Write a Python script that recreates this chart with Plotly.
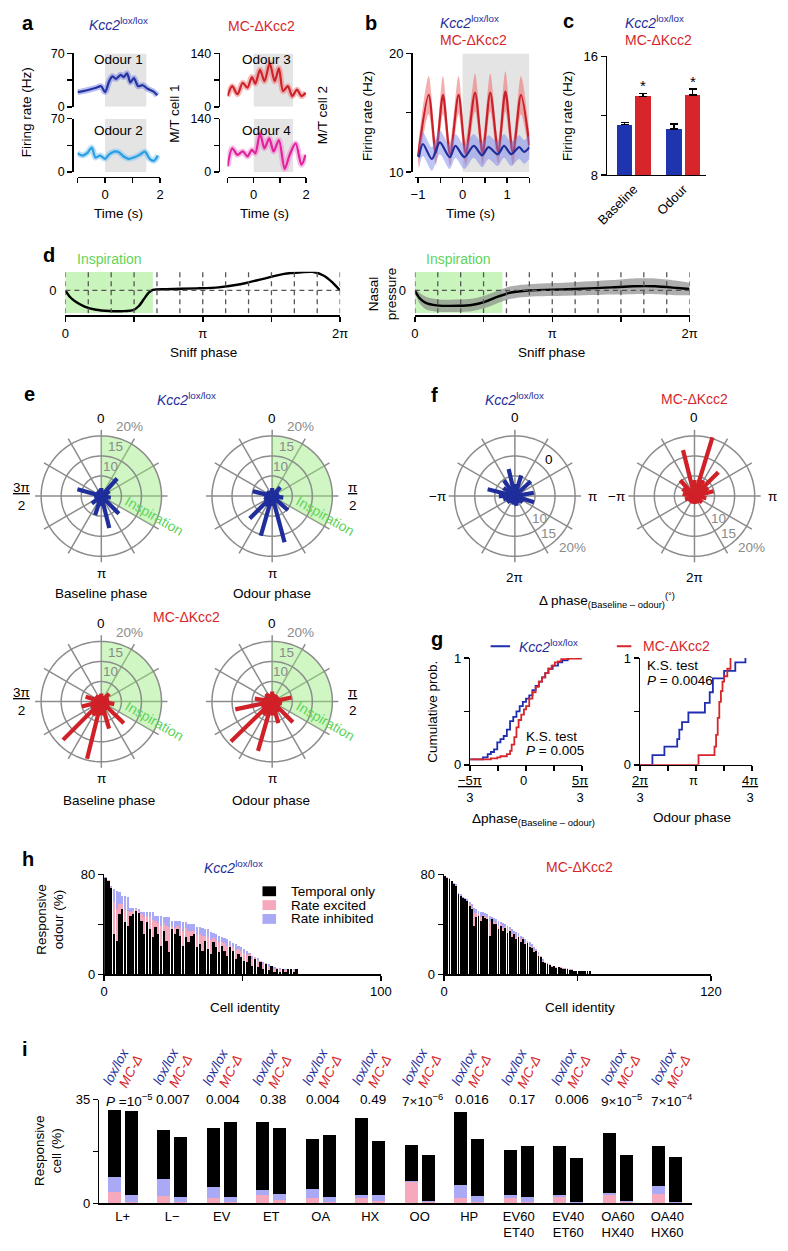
import math
import plotly.graph_objects as go

W, H = 788, 1251
FONT = 'Liberation Sans, Arial, sans-serif'
PI = math.pi

BLUE = '#1f2e9b'
RED = '#d6262b'
LBLUE = '#2a9ee2'
MAGENTA = '#e2219b'
GREEN_TXT = '#5fd35a'
GREEN_FILL = '#c9f5bc'
GREEN_ROSE = 'rgba(150,236,125,0.45)'
PINK = '#f6a9bd'
LAV = '#a9a9f6'
GRID = '#8c8c8c'
GRAYTXT = '#8a8a8a'

# ---------------- data: panel a ----------------
a_t1 = [-1.0, -0.8, -0.55, -0.32, -0.14, 0.0, 0.15, 0.27, 0.4, 0.57, 0.68, 0.8, 0.92, 1.05, 1.2, 1.37, 1.55, 1.75, 1.9]
a_odour1 = [19.3, 20.6, 22.7, 24.9, 27.0, 19.3, 33.5, 40.0, 36.5, 42.0, 39.0, 44.0, 32.0, 37.8, 27.0, 28.3, 23.6, 20.2, 15.0]
a_t2 = [-1.0, -0.82, -0.65, -0.48, -0.35, -0.18, 0.0, 0.16, 0.33, 0.5, 0.68, 0.85, 1.05, 1.25, 1.45, 1.62, 1.78, 1.92]
a_odour2 = [24.7, 21.6, 24.7, 32.0, 19.0, 21.6, 17.3, 23.4, 26.8, 26.0, 20.3, 17.3, 19.0, 22.5, 26.8, 17.3, 14.7, 21.6]
a_t3 = [-1.0, -0.82, -0.62, -0.42, -0.24, -0.07, 0.06, 0.24, 0.41, 0.61, 0.8, 0.96, 1.12, 1.3, 1.47, 1.65, 1.82, 1.98]
a_odour3 = [28, 54, 33, 63, 50, 78, 61, 97, 67, 114, 67, 101, 41, 54, 28, 45, 28, 37]
a_t4 = [-1.0, -0.82, -0.62, -0.42, -0.24, -0.07, 0.06, 0.24, 0.41, 0.59, 0.76, 0.96, 1.18, 1.37, 1.6, 1.82, 1.98]
a_odour4 = [15, 62, 45, 54, 41, 58, 49, 101, 62, 88, 54, 84, 8, 45, 75, 19, 45]

# ---------------- data: panel b ----------------
b_t_red = [-1.0, -0.76, -0.6, -0.44, -0.28, -0.09, 0.07, 0.28, 0.45, 0.62, 0.8, 0.96, 1.13, 1.31, 1.5]
b_red = [11.3, 16.5, 11.6, 16.5, 11.5, 16.5, 11.6, 16.7, 11.6, 16.7, 11.7, 16.8, 11.6, 16.5, 12.2]
b_red_sem = [1.0, 1.6, 1.0, 1.6, 1.0, 1.6, 1.0, 1.6, 1.0, 1.6, 1.0, 1.7, 1.0, 1.6, 1.0]
b_t_blue = [-0.98, -0.89, -0.69, -0.51, -0.29, -0.16, 0.04, 0.25, 0.44, 0.58, 0.79, 0.93, 1.09, 1.27, 1.38, 1.5]
b_blue = [11.25, 12.36, 11.1, 12.5, 11.25, 12.2, 11.25, 12.2, 11.4, 12.1, 11.5, 12.2, 11.5, 12.1, 11.7, 12.1]
b_blue_sem = [1.0] * 16

# ---------------- data: panel c ----------------
c_groups = ['Baseline', 'Odour']
c_kcc = [11.4, 11.1]
c_kcc_err = [0.13, 0.35]
c_mc = [13.3, 13.4]
c_mc_err = [0.2, 0.4]

# ---------------- data: panel d ----------------
d_phase_l = [0, 0.1, 0.22, 0.44, 0.7, 1.0, 1.3, 1.55, 1.68, 1.8, 1.9, 2.0, 2.3, 3.0, 3.5, 4.0, 4.5, 5.0, 5.4, 5.65, 5.9, 6.1, 6.28]
d_press_l = [0, -0.3, -0.52, -0.78, -0.93, -0.99, -1.0, -0.95, -0.75, -0.4, -0.12, 0.03, 0.06, 0.1, 0.15, 0.3, 0.55, 0.8, 0.88, 0.9, 0.72, 0.4, 0.0]
d_phase_r = [0, 0.1, 0.25, 0.5, 1.0, 1.3, 1.6, 1.9, 2.2, 2.6, 3.5, 4.5, 5.0, 5.5, 6.0, 6.28]
d_press_r = [0, -0.35, -0.6, -0.72, -0.74, -0.7, -0.55, -0.3, -0.1, 0.0, 0.06, 0.15, 0.2, 0.2, 0.12, 0.07]
d_sem_r = [0.1, 0.25, 0.3, 0.3, 0.3, 0.3, 0.3, 0.3, 0.3, 0.3, 0.32, 0.35, 0.38, 0.38, 0.35, 0.3]

# ---------------- data: panel e (angle deg clockwise from 0, % of cells) ----------------
e_base_kcc_th = [0, 20, 42, 60, 80, 100, 120, 135, 150, 166, 180, 198, 215, 232, 250, 268, 286, 305, 325, 345]
e_base_kcc_r = [7, 6.5, 10.9, 7.4, 6.8, 7.4, 6.5, 11.2, 7, 13.2, 7.5, 10, 7, 8, 6.5, 6.8, 11.2, 6.5, 6.6, 6.8]
e_odour_kcc_th = [0, 20, 43, 65, 98, 115, 132, 150, 165, 180, 196, 210, 225, 245, 265, 284, 305, 330]
e_odour_kcc_r = [7, 6.5, 8, 6.8, 7.8, 6.8, 10.3, 7, 16.9, 7.5, 15.3, 8, 12.9, 7.2, 7, 10, 6.8, 6.5]
e_base_mc_th = [0, 20, 45, 70, 101, 120, 134, 150, 164, 180, 194, 210, 225, 240, 256, 272, 287, 310, 335]
e_base_mc_r = [7, 6.5, 7.8, 7, 8.3, 7.2, 12.8, 7.5, 12, 8.5, 19.7, 9, 18.5, 8, 10, 7.5, 9.1, 7, 6.8]
e_odour_mc_th = [0, 25, 50, 78, 100, 120, 135, 150, 164, 180, 196, 212, 226, 242, 258, 280, 300, 322, 342]
e_odour_mc_r = [7.5, 7, 7, 9.9, 7.5, 7.2, 12.3, 8, 10.6, 8.5, 17.8, 9, 19.3, 8, 14.4, 9.4, 7.2, 7.5, 7]
e_insp_th = [0, 120]
rose_rings = [10, 15, 20]

# ---------------- data: panel f ----------------
f_kcc_th = [0, 17, 47, 80, 108, 130, 150, 170, 190, 210, 230, 255, 270, 284, 305, 325, 347]
f_kcc_r = [8, 10.4, 10.4, 9.8, 10, 7.5, 7, 7.5, 7.2, 7, 7.5, 8, 9, 12, 8.5, 9.8, 11.9]
f_mc_th = [0, 17, 30, 45, 60, 76, 100, 130, 160, 190, 220, 250, 280, 300, 318, 346]
f_mc_r = [9, 20.3, 9.5, 13.4, 9, 9.9, 8, 7.5, 7, 7, 7, 7.5, 8, 8.5, 10.3, 16.8]

# ---------------- data: panel g (cumulative) ----------------
g_dphase_kcc = [-5.24, -4.04, -3.6, -3.3, -3.0, -2.7, -2.4, -2.1, -1.8, -1.5, -1.2, -0.9, -0.6, -0.3, 0.0, 0.3, 0.6, 0.9, 1.2, 1.5, 1.8, 2.1, 2.5, 3.0, 3.4, 3.9]
g_cum_kcc = [0.05, 0.07, 0.1, 0.12, 0.145, 0.21, 0.24, 0.27, 0.33, 0.41, 0.45, 0.5, 0.55, 0.59, 0.62, 0.65, 0.7, 0.74, 0.78, 0.82, 0.86, 0.9, 0.93, 0.96, 0.98, 1.0]
g_dphase_mc = [-5.24, -3.3, -2.7, -2.4, -1.8, -1.5, -1.35, -1.1, -0.9, -0.7, -0.45, -0.2, 0.0, 0.3, 0.6, 0.9, 1.2, 1.5, 1.8, 2.1, 2.4, 2.7, 3.0, 3.3, 4.0, 5.2]
g_cum_mc = [0.05, 0.06, 0.07, 0.08, 0.1, 0.13, 0.19, 0.26, 0.35, 0.42, 0.47, 0.52, 0.55, 0.62, 0.68, 0.73, 0.78, 0.82, 0.86, 0.9, 0.93, 0.96, 0.97, 0.99, 0.995, 1.0]
g_ophase_kcc = [2.094, 2.325, 2.55, 2.79, 2.83, 2.88, 3.0, 3.31, 3.40, 3.46, 3.67, 3.88, 4.07]
g_ocum_kcc = [0, 0.09, 0.17, 0.24, 0.33, 0.4, 0.49, 0.58, 0.68, 0.81, 0.88, 0.96, 1.0]
g_ophase_mc = [2.094, 3.19, 3.49, 3.52, 3.55, 3.58, 3.61, 3.64, 3.67, 3.73, 3.79]
g_ocum_mc = [0, 0.09, 0.17, 0.28, 0.44, 0.59, 0.69, 0.78, 0.83, 0.9, 1.0]

# ---------------- data: panel h (per cell, % responsive odours) ----------------
h_kcc_temporal = [77, 74.7, 69, 32, 27, 48, 52, 41.6, 39, 47, 48, 51, 49.5, 43, 32, 41.6, 36, 29.7, 37.6, 32,
                  23, 35, 27, 17.7, 36, 32, 36, 31, 23, 29.7, 25.7, 31, 32, 21.7, 24.4, 19, 27, 20, 16.4, 25.7,
                  21.7, 17.7, 23, 19, 15, 21.7, 19, 12.5, 16.4, 13.8, 11, 9.8, 15, 7, 12.5, 5.8, 9.8, 4.5, 8.5, 3.2,
                  7, 2, 4.5, 2, 4.5, 2, 4.5, 4.5, 2, 4.5]
h_kcc_excited = [0.5, 0.8, 1, 26, 25, 8, 4, 10, 12, 3, 3, 1, 1.5, 5, 14, 5, 10, 14, 5, 9,
                 16, 6, 12, 20, 3, 5, 3, 6, 12, 7, 9, 4, 3, 10, 8, 12, 4, 10, 11, 3,
                 6, 8, 3, 6, 8, 2, 3, 7, 4, 5, 6, 6, 1, 5, 1, 5, 1, 3.5, 0.5, 3,
                 0, 2.5, 0.5, 2, 0, 1.5, 0, 0, 1.5, 0]
h_kcc_inhibited = [0.5, 0, 1, 10, 15, 10, 7, 11.4, 11, 3, 2, 1, 1, 2, 4, 3.4, 4, 6.3, 4.4, 6,
                   8, 5, 7, 8.3, 4, 6, 4, 6, 7, 5.3, 5.3, 5, 5, 6.3, 5.6, 6, 5, 6, 6.6, 4.3,
                   4.3, 5.3, 4, 4, 5, 3.3, 3, 4.5, 2.6, 3.2, 3, 3.2, 1, 3, 0.5, 2.2, 0.2, 2, 0, 1.8,
                   0, 1.5, 0, 1, 0, 1, 0, 0, 1, 0]
h_mc_temporal = [78.5, 77.5, 76, 74.5, 72, 71, 64, 63, 61, 60, 59, 55, 52, 39, 46, 47, 43, 47, 45.5, 44,
                 31, 44, 40, 40, 36, 39, 35, 37, 33, 35, 30, 32, 28, 30, 26, 28, 24, 25, 22, 21,
                 18, 19, 15, 14, 10, 9, 8, 7.5, 6, 6.5, 5, 5.5, 5, 4.5, 4, 4.5, 3.5, 3.5, 2.5, 3,
                 2.5, 3, 2.5, 3, 3, 3]
h_mc_excited = [0.5, 0.5, 0, 0.5, 0, 0.5, 0.5, 0, 0.5, 0.5, 0, 1, 1, 10, 3, 1, 3, 0.5, 1, 2,
                12, 0.5, 2, 1, 3, 1, 2, 1, 2, 1, 2, 1, 2, 1, 2, 1, 1, 1, 1, 1,
                1, 0.5, 1, 0.5, 1, 0.5, 0.5, 0.5, 0.5, 0.5, 0.5, 0.5, 0.5, 0.5, 0.5, 0.5, 0.5, 0.5, 0.5, 0,
                0.5, 0, 0.5, 0, 0, 0]
h_mc_inhibited = [0, 0, 1, 0, 1, 0.5, 0.5, 1, 0.5, 0.5, 1, 2, 3, 4, 3, 3, 4, 2.5, 2.5, 2,
                  4, 1.5, 3, 3, 4, 2, 4, 2, 4, 2, 4, 2, 4, 2, 3, 1, 3, 1, 3, 2,
                  3, 0.5, 2, 0.5, 1, 0.5, 0.5, 0, 0.5, 0, 0.5, 0, 0.5, 0, 0.5, 0, 0, 0, 0, 0,
                  0, 0, 0, 0, 0, 0]

# ---------------- data: panel i ----------------
i_odours = ['L+', 'L−', 'EV', 'ET', 'OA', 'HX', 'OO', 'HP', 'EV60<br>ET40', 'EV40<br>ET60', 'OA60<br>HX40', 'OA40<br>HX60']
i_pvals = ['<i>P</i> =10<sup>−5</sup>', '0.007', '0.004', '0.38', '0.004', '0.49', '7×10<sup>−6</sup>', '0.016',
           '0.17', '0.006', '9×10<sup>−5</sup>', '7×10<sup>−4</sup>']
i_kcc_excited = [3.9, 2.5, 1.9, 2.7, 1.9, 1.7, 7.2, 1.9, 1.9, 2.1, 2.9, 3.3]
i_kcc_inhibited = [5.0, 5.9, 3.8, 2.0, 3.0, 1.3, 0.3, 4.5, 0.8, 0.9, 0.7, 2.5]
i_kcc_temporal = [22.8, 16.3, 19.8, 22.8, 16.7, 25.9, 12.1, 24.5, 15.4, 16.4, 20.3, 13.6]
i_mc_excited = [0.4, 0.6, 0.6, 1.3, 0.6, 0.8, 0.4, 0.6, 0.6, 0.2, 0.6, 0.2]
i_mc_inhibited = [2.6, 1.5, 1.6, 2.0, 1.5, 2.0, 0.4, 1.9, 1.5, 0.2, 0.3, 0.2]
i_mc_temporal = [28.1, 20.2, 25.4, 22.2, 21.1, 18.4, 15.6, 19.4, 17.4, 14.9, 15.5, 15.4]

# ============================================================
fig = go.Figure()
lay = dict(width=W, height=H, margin=dict(l=0, r=0, t=0, b=0), paper_bgcolor='white',
           plot_bgcolor='rgba(0,0,0,0)', showlegend=False, barmode='stack',
           font=dict(family=FONT, size=13, color='black'))
anns, shapes = [], []


def dx(x0, x1):
    return [x0 / W, x1 / W]


def dy(y0, y1):
    return [1 - y1 / H, 1 - y0 / H]


def ann(x, y, text, size=13, color='black', xa='center', ya='middle', angle=0):
    anns.append(dict(x=x / W, y=1 - y / H, xref='paper', yref='paper', text=text, showarrow=False,
                     font=dict(family=FONT, size=size, color=color), xanchor=xa, yanchor=ya, textangle=angle))


def pline(x0, y0, x1, y1, color, width=2):
    shapes.append(dict(type='line', xref='paper', yref='paper', x0=x0 / W, x1=x1 / W,
                       y0=1 - y0 / H, y1=1 - y1 / H, line=dict(color=color, width=width)))


def prect(x0, y0, x1, y1, color):
    shapes.append(dict(type='rect', xref='paper', yref='paper', x0=x0 / W, x1=x1 / W,
                       y0=1 - y1 / H, y1=1 - y0 / H, fillcolor=color, line=dict(width=0)))


def base_axis():
    return dict(showgrid=False, zeroline=False, showline=True, linecolor='black', linewidth=1.5,
                ticks='outside', ticklen=5, tickwidth=1.5, tickcolor='black',
                tickfont=dict(family=FONT, size=13, color='black'), fixedrange=True)


def tk(major, labels, minor=None):
    d = dict(tickmode='array', tickvals=major, ticktext=labels)
    if minor:
        d['minor'] = dict(tickmode='array', tickvals=minor, ticks='outside', ticklen=5, tickwidth=1.5,
                          tickcolor='black', showgrid=False)
    return d


def axes(i, xd, yd, xr, yr, xkw=None, ykw=None):
    xs = 'x' if i == 1 else 'x%d' % i
    ys = 'y' if i == 1 else 'y%d' % i
    xa = base_axis()
    xa.update(domain=xd, range=xr, anchor=ys)
    ya = base_axis()
    ya.update(domain=yd, range=yr, anchor=xs)
    xa.update(xkw or {})
    ya.update(ykw or {})
    lay['xaxis' if i == 1 else 'xaxis%d' % i] = xa
    lay['yaxis' if i == 1 else 'yaxis%d' % i] = ya
    return xs, ys


def drect(xs, ys, x0, x1, y0, y1, color):
    shapes.append(dict(type='rect', xref=xs, yref=ys, x0=x0, x1=x1, y0=y0, y1=y1, fillcolor=color,
                       line=dict(width=0), layer='below'))


def dline(xs, ys, x0, x1, y0, y1, color='#555', width=1.3, dash='dash'):
    shapes.append(dict(type='line', xref=xs, yref=ys, x0=x0, x1=x1, y0=y0, y1=y1,
                       line=dict(color=color, width=width, dash=dash)))


def sline(x, y, xs, ys, color, width=2.2, band=None):
    if band:
        fig.add_trace(go.Scatter(x=x, y=y, mode='lines', line=dict(color=band, width=6, shape='spline', smoothing=0.8),
                                 xaxis=xs, yaxis=ys, hoverinfo='skip'))
    fig.add_trace(go.Scatter(x=x, y=y, mode='lines', line=dict(color=color, width=width, shape='spline', smoothing=0.8),
                             xaxis=xs, yaxis=ys))


def band(x, m, s, xs, ys, fillcolor, linecolor, lw=2.2):
    up = [a + b for a, b in zip(m, s)]
    lo = [a - b for a, b in zip(m, s)]
    fig.add_trace(go.Scatter(x=x, y=up, mode='lines', line=dict(width=0, shape='spline', smoothing=0.8),
                             xaxis=xs, yaxis=ys, hoverinfo='skip'))
    fig.add_trace(go.Scatter(x=x, y=lo, mode='lines', line=dict(width=0, shape='spline', smoothing=0.8),
                             fill='tonexty', fillcolor=fillcolor, xaxis=xs, yaxis=ys, hoverinfo='skip'))
    fig.add_trace(go.Scatter(x=x, y=m, mode='lines', line=dict(color=linecolor, width=lw, shape='spline', smoothing=0.8),
                             xaxis=xs, yaxis=ys))


# ---------------- panel a ----------------
hidden_x = dict(visible=False)
small_ticks = dict(family=FONT, size=12.5, color='black')
ya_l = dict(anchor='free', position=62 / W, tickfont=small_ticks)
ya_r = dict(anchor='free', position=213 / W, tickfont=small_ticks)
xbot = dict(anchor='free', position=1 - 172 / H, **tk([0, 2], ['0', '2'], [-1, 1]))
x1s, y1s = axes(1, dx(67.5, 152.5), dy(47, 101), [-1, 2], [0, 70], hidden_x,
                dict(ya_l, **tk([0, 70], ['0', '70'], [35])))
x2s, y2s = axes(2, dx(67.5, 152.5), dy(113, 167), [-1, 2], [0, 70], xbot,
                dict(ya_l, **tk([0, 70], ['0', '70'], [35])))
x3s, y3s = axes(3, dx(222, 303), dy(47, 101), [-1, 2], [0, 140], hidden_x,
                dict(ya_r, **tk([0, 140], ['0', '140'], [70])))
x4s, y4s = axes(4, dx(222, 303), dy(113, 167), [-1, 2], [0, 140], xbot,
                dict(ya_r, **tk([0, 140], ['0', '140'], [70])))
for xs, ys, top in [(x1s, y1s, 70), (x2s, y2s, 70), (x3s, y3s, 140), (x4s, y4s, 140)]:
    drect(xs, ys, 0, 1.5, 0, top, '#e4e4e4')
sline(a_t1, a_odour1, x1s, y1s, '#2433a0', band='rgba(100,115,225,0.45)')
sline(a_t2, a_odour2, x2s, y2s, LBLUE, band='rgba(120,195,245,0.5)')
sline(a_t3, a_odour3, x3s, y3s, '#cc2229', band='rgba(240,120,120,0.5)')
sline(a_t4, a_odour4, x4s, y4s, MAGENTA, band='rgba(240,130,205,0.5)')
ann(8, 16, '<b>a</b>', size=20, xa='left')
ann(110, 17, '<i>Kcc2</i><sup>lox/lox</sup>', size=14, color=BLUE)
ann(257, 19, 'MC-ΔKcc2', size=14, color=RED)
ann(110, 53, 'Odour 1', size=13.5)
ann(110, 125, 'Odour 2', size=13.5)
ann(262, 53, 'Odour 3', size=13.5)
ann(262, 125, 'Odour 4', size=13.5)
ann(15, 107, 'Firing rate (Hz)', size=13.5, angle=-90)
ann(168, 108, 'M/T cell 1', size=13.5, angle=-90)
ann(320, 110, 'M/T cell 2', size=13.5, angle=-90)
ann(110, 209, 'Time (s)', size=13.5)
ann(260, 209, 'Time (s)', size=13.5)

# ---------------- panel b ----------------
x5s, y5s = axes(5, dx(415, 533), dy(47, 167), [-1.07, 1.5], [10, 20],
                dict(anchor='free', position=1 - 172 / H, **tk([-1, 0, 1], ['−1', '0', '1'], [-0.5, 0.5, 1.5])),
                dict(anchor='free', position=411 / W, **tk([10, 20], ['10', '20'], [15])))
drect(x5s, y5s, 0, 1.5, 10, 20, '#e4e4e4')
band(b_t_red, b_red, b_red_sem, x5s, y5s, 'rgba(238,105,105,0.55)', '#c8202a')
band(b_t_blue, b_blue, b_blue_sem, x5s, y5s, 'rgba(110,125,235,0.45)', '#1f2e9b')
ann(362, 16, '<b>b</b>', size=20, xa='left')
ann(471, 15, '<i>Kcc2</i><sup>lox/lox</sup>', size=14, color=BLUE)
ann(475, 33, 'MC-ΔKcc2', size=14, color=RED)
ann(366, 110, 'Firing rate (Hz)', size=13.5, angle=-90)
ann(472, 209, 'Time (s)', size=13.5)

# ---------------- panel c ----------------
x6s, y6s = axes(6, dx(613, 715), dy(50, 170), [-0.54, 1.46], [8, 16],
                dict(tickvals=[0, 1], ticktext=c_groups, tickangle=-45, ticks='', ticklen=0),
                dict(**tk([8, 16], ['8', '16'], [12])))
for gi in range(len(c_groups)):
    fig.add_trace(go.Bar(x=[gi - 0.186], y=[c_kcc[gi]], width=[0.314], marker=dict(color='#1f35b0', line=dict(width=0)),
                         error_y=dict(type='data', symmetric=False, array=[c_kcc_err[gi]], arrayminus=[0],
                                      color='black', thickness=1.5, width=4), xaxis=x6s, yaxis=y6s))
    fig.add_trace(go.Bar(x=[gi + 0.186], y=[c_mc[gi]], width=[0.314], marker=dict(color=RED, line=dict(width=0)),
                         error_y=dict(type='data', symmetric=False, array=[c_mc_err[gi]], arrayminus=[0],
                                      color='black', thickness=1.5, width=4), xaxis=x6s, yaxis=y6s))
    anns.append(dict(x=gi + 0.186, y=c_mc[gi] + c_mc_err[gi], xref=x6s, yref=y6s, text='*', showarrow=False,
                     yanchor='bottom', yshift=-3, font=dict(family=FONT, size=15, color='black')))
ann(566, 14, '<b>c</b>', size=20, xa='left')
ann(662, 15, '<i>Kcc2</i><sup>lox/lox</sup>', size=14, color=BLUE)
ann(666, 33, 'MC-ΔKcc2', size=14, color=RED)
ann(572, 110, 'Firing rate (Hz)', size=13.5, angle=-90)

# ---------------- panel d ----------------
dx_kw = dict(anchor='free', position=1 - 313 / H, linewidth=2,
             **tk([0, PI, 2 * PI], ['0', 'π', '2π'], [PI / 2, 3 * PI / 2]))
dy_kw = dict(showline=False, ticks='', tickvals=[0], ticktext=['0'], ticklabelstandoff=8)
x7s, y7s = axes(7, dx(55, 338), dy(268, 310), [0, 2 * PI], [-1.1, 0.9], dx_kw, dy_kw)
x8s, y8s = axes(8, dx(415, 698), dy(268, 310), [0, 2 * PI], [-1.1, 0.9], dx_kw, dy_kw)
for xs, ys in [(x7s, y7s), (x8s, y8s)]:
    drect(xs, ys, 0, 2.0, -1.1, 0.9, GREEN_FILL)
    for k in range(13):
        dline(xs, ys, k * PI / 6, k * PI / 6, -1.1, 0.9, dash='5px,4px')
    dline(xs, ys, 0, 2 * PI, 0, 0, dash='5px,4px')
fig.add_trace(go.Scatter(x=d_phase_l, y=d_press_l, mode='lines',
                         line=dict(color='black', width=2.4, shape='spline', smoothing=0.7), xaxis=x7s, yaxis=y7s))
band(d_phase_r, d_press_r, d_sem_r, x8s, y8s, 'rgba(130,130,130,0.65)', 'black', lw=2.4)
ann(30, 251, '<b>d</b>', size=20, xa='left')
ann(100, 255, 'Inspiration', size=14, color=GREEN_TXT)
ann(460, 255, 'Inspiration', size=14, color=GREEN_TXT)
ann(382, 290, 'Nasal<br>pressure', size=13.5, angle=-90)
ann(197, 350, 'Sniff phase', size=13.5)
ann(556, 350, 'Sniff phase', size=13.5)

# ---------------- panels e & f (polar) ----------------
R_OUT = 68.2


def make_polar(name, cx, cy):
    lay[name] = dict(domain=dict(x=dx(cx - R_OUT, cx + R_OUT), y=dy(cy - R_OUT, cy + R_OUT)),
                     bgcolor='rgba(0,0,0,0)',
                     radialaxis=dict(range=[5, 21.5], visible=False),
                     angularaxis=dict(rotation=90, direction='clockwise', tickmode='array',
                                      tickvals=list(range(0, 360, 30)), ticktext=[''] * 12,
                                      showticklabels=False, ticks='', showline=False, gridcolor=GRID, gridwidth=1.5))


def rose(name, th, r, color, insp=False):
    if insp:
        wedge_th = [e_insp_th[0]] + list(range(e_insp_th[0], e_insp_th[1] + 1, 5))
        wedge_r = [5] + [20] * (len(wedge_th) - 1)
        fig.add_trace(go.Scatterpolar(r=wedge_r, theta=wedge_th, mode='lines', fill='toself',
                                      fillcolor=GREEN_ROSE, line=dict(width=0), subplot=name, hoverinfo='skip'))
    ring_th = list(range(0, 361, 3))
    for ring in rose_rings:
        fig.add_trace(go.Scatterpolar(r=[ring] * len(ring_th), theta=ring_th, mode='lines',
                                      line=dict(color=GRID, width=1.5), subplot=name, hoverinfo='skip'))
    rr, tt = [], []
    for a, v in zip(th, r):
        rr += [5, v, None]
        tt += [a, a, None]
    fig.add_trace(go.Scatterpolar(r=rr, theta=tt, mode='lines', line=dict(color=color, width=4.2),
                                  subplot=name, connectgaps=False))


rose_specs = [('polar', 92, 495, e_base_kcc_th, e_base_kcc_r, '#1f2e9b', True),
              ('polar2', 268, 495, e_odour_kcc_th, e_odour_kcc_r, '#1f2e9b', True),
              ('polar3', 92, 703, e_base_mc_th, e_base_mc_r, '#d02028', True),
              ('polar4', 268, 703, e_odour_mc_th, e_odour_mc_r, '#d02028', True),
              ('polar5', 518, 495, f_kcc_th, f_kcc_r, '#1f2e9b', False),
              ('polar6', 703, 495, f_mc_th, f_mc_r, '#d02028', False)]
for name, cx, cy, th, r, col, insp in rose_specs:
    make_polar(name, cx, cy)
    rose(name, th, r, col, insp)

for cx, cy, left in [(92, 495, True), (268, 495, False), (92, 703, True), (268, 703, False)]:
    ann(cx, cy - 79, '0', size=13.5)
    ann(cx, cy + 78, 'π', size=13.5)
    ann(cx + 29, cy - 70, '20%', size=13.5, color=GRAYTXT)
    ann(cx + 15, cy - 50, '15', size=13.5, color=GRAYTXT)
    ann(cx + 9, cy - 30, '10', size=13.5, color=GRAYTXT)
    ann(cx + 55, cy + 20, 'Inspiration', size=14, color=GREEN_TXT, angle=30)
    if left:
        ann(10, cy, '<u>3π</u><br>2', size=13.5)
    else:
        ann(351, cy, '<u>π</u><br>2', size=13.5)
ann(10, 392, '<b>e</b>', size=20, xa='left')
ann(180, 397, '<i>Kcc2</i><sup>lox/lox</sup>', size=14, color=BLUE)
ann(180, 617, 'MC-ΔKcc2', size=14, color=RED)
ann(92, 594, 'Baseline phase', size=13.5)
ann(268, 594, 'Odour phase', size=13.5)
ann(100, 803, 'Baseline phase', size=13.5)
ann(267, 803, 'Odour phase', size=13.5)

for cx in [518, 703]:
    cy = 495
    ann(cx, cy - 80, '0', size=13.5)
    ann(cx, cy + 82, '2π', size=13.5)
    ann(cx - 80, cy, '−π', size=13.5)
    ann(cx + 80, cy, 'π', size=13.5)
    ann(cx + 25, cy + 23, '10', size=13.5, color=GRAYTXT)
    ann(cx + 35, cy + 38, '15', size=13.5, color=GRAYTXT)
    ann(cx + 59, cy + 52, '20%', size=13.5, color=GRAYTXT)
ann(553, 458, '0', size=13.5)
ann(430, 393, '<b>f</b>', size=20, xa='left')
ann(518, 397, '<i>Kcc2</i><sup>lox/lox</sup>', size=14, color=BLUE)
ann(703, 397, 'MC-ΔKcc2', size=14, color=RED)
ann(613, 600, 'Δ phase<sub>(Baseline – odour)</sub><sup>(°)</sup>', size=13.5)

# ---------------- panel g ----------------
x9s, y9s = axes(9, dx(472, 587), dy(659, 767), [-5 * PI / 3, 5 * PI / 3], [0, 1],
                dict(tickmode='array', tickvals=[], minor=dict(tickmode='array',
                     tickvals=[-5 * PI / 3, -5 * PI / 6, 0, 5 * PI / 6, 5 * PI / 3], ticks='outside', ticklen=5,
                     tickwidth=1.5, tickcolor='black', showgrid=False)),
                dict(**tk([0, 1], ['0', '1'], [0.5])))
x10s, y10s = axes(10, dx(647, 762), dy(659, 767), [2 * PI / 3, 4 * PI / 3], [0, 1],
                  dict(tickmode='array', tickvals=[], minor=dict(tickmode='array',
                       tickvals=[2 * PI / 3, 5 * PI / 6, PI, 7 * PI / 6, 4 * PI / 3], ticks='outside', ticklen=5,
                       tickwidth=1.5, tickcolor='black', showgrid=False)),
                  dict(**tk([0, 1], ['0', '1'], [0.5])))
for xv, yv, col, xs, ys in [(g_dphase_kcc, g_cum_kcc, '#1f2eb0', x9s, y9s), (g_dphase_mc, g_cum_mc, RED, x9s, y9s),
                            (g_ophase_kcc, g_ocum_kcc, '#1f2eb0', x10s, y10s), (g_ophase_mc, g_ocum_mc, RED, x10s, y10s)]:
    fig.add_trace(go.Scatter(x=xv, y=yv, mode='lines', line=dict(color=col, width=1.8, shape='hv'),
                             xaxis=xs, yaxis=ys, cliponaxis=False))
ann(430, 640, '<b>g</b>', size=20, xa='left')
pline(493, 647, 513, 647, '#1f2eb0', 2)
ann(520, 647, '<i>Kcc2</i><sup>lox/lox</sup>', size=14, color=BLUE, xa='left')
pline(623, 647, 638, 647, RED, 2)
ann(648, 647, 'MC-ΔKcc2', size=14, color=RED, xa='left')
ann(433, 713, 'Cumulative prob.', size=13.5, angle=-90)
ann(527, 738, 'K.S. test', size=13.5, xa='left')
ann(527, 753, '<i>P</i> = 0.005', size=13.5, xa='left')
ann(652, 666, 'K.S. test', size=13.5, xa='left')
ann(652, 682, '<i>P</i> = 0.0046', size=13.5, xa='left')
for xx, tx in [(472, '<u>−5π</u><br>3'), (585, '<u>5π</u><br>3'), (647, '<u>2π</u><br>3'), (760, '<u>4π</u><br>3')]:
    ann(xx, 773, tx, size=13, ya='top')
ann(527, 773, '0', size=13, ya='top')
ann(702, 773, 'π', size=13, ya='top')
ann(537, 822, 'Δphase<sub>(Baseline – odour)</sub>', size=13.5)
ann(700, 820, 'Odour phase', size=13.5)

# ---------------- panel h ----------------
x11s, y11s = axes(11, dx(95, 380), dy(878, 979), [0, 100], [0, 80],
                  dict(**tk([0, 100], ['0', '100'], [50])),
                  dict(**tk([0, 80], ['0', '80'], [40])))
x12s, y12s = axes(12, dx(445, 720), dy(878, 979), [0, 120], [0, 80],
                  dict(**tk([0, 120], ['0', '120'], [60])),
                  dict(**tk([0, 80], ['0', '80'], [40])))
for vals_t, vals_e, vals_i, xs, ys in [(h_kcc_temporal, h_kcc_excited, h_kcc_inhibited, x11s, y11s),
                                      (h_mc_temporal, h_mc_excited, h_mc_inhibited, x12s, y12s)]:
    cells = [k + 0.5 for k in range(len(vals_t))]
    for vals, col in [(vals_t, 'black'), (vals_e, PINK), (vals_i, LAV)]:
        fig.add_trace(go.Bar(x=cells, y=vals, width=0.82, marker=dict(color=col, line=dict(width=0)),
                             xaxis=xs, yaxis=ys))
ann(8, 862, '<b>h</b>', size=20, xa='left')
ann(228, 870, '<i>Kcc2</i><sup>lox/lox</sup>', size=14, color=BLUE)
ann(585, 870, 'MC-ΔKcc2', size=14, color=RED)
ann(40, 923, 'Responsive<br>odour (%)', size=13.5, angle=-90)
for yy, col, lab in [(895, 'black', 'Temporal only'), (909, PINK, 'Rate excited'), (923, LAV, 'Rate inhibited')]:
    prect(258, yy - 5, 272, yy + 5, col)
    ann(285, yy, lab, size=13.5, xa='left')
ann(240, 1013, 'Cell identity', size=13.5)
ann(585, 1013, 'Cell identity', size=13.5)

# ---------------- panel i ----------------
ng = len(i_odours)
x13s, y13s = axes(13, dx(90, 700), dy(1106, 1211), [-0.47, ng - 0.51], [0, 35],
                  dict(tickvals=list(range(ng)), ticktext=i_odours, ticks='', ticklen=0),
                  dict(**tk([0, 35], ['0', '35'], [17.5])))
pos_k = [g - 0.17 for g in range(ng)]
pos_m = [g + 0.17 for g in range(ng)]
for pos, exc, inh, tem in [(pos_k, i_kcc_excited, i_kcc_inhibited, i_kcc_temporal),
                           (pos_m, i_mc_excited, i_mc_inhibited, i_mc_temporal)]:
    for vals, col in [(exc, PINK), (inh, LAV), (tem, 'black')]:
        fig.add_trace(go.Bar(x=pos, y=vals, width=0.26, marker=dict(color=col, line=dict(width=0)),
                             xaxis=x13s, yaxis=y13s))
ann(8, 1055, '<b>i</b>', size=20, xa='left')
ann(37, 1157, 'Responsive<br>cell (%)', size=13.5, angle=-90)
for g in range(ng):
    cxp = 114 + 51.3 * g
    ann(cxp - 7, 1072, '<i>lox/lox</i>', size=13.5, color=BLUE, angle=-62)
    ann(cxp + 8, 1077, '<i>MC-Δ</i>', size=13.5, color=RED, angle=-62)
    ann(cxp + (7 if g == 0 else 1), 1106, i_pvals[g], size=13.5)

lay['annotations'] = anns
lay['shapes'] = shapes
fig.update_layout(**lay)
fig.write_html('out.html', config={'displayModeBar': False, 'staticPlot': True},
               post_script="document.body.style.margin='0';document.body.style.padding='0';")
